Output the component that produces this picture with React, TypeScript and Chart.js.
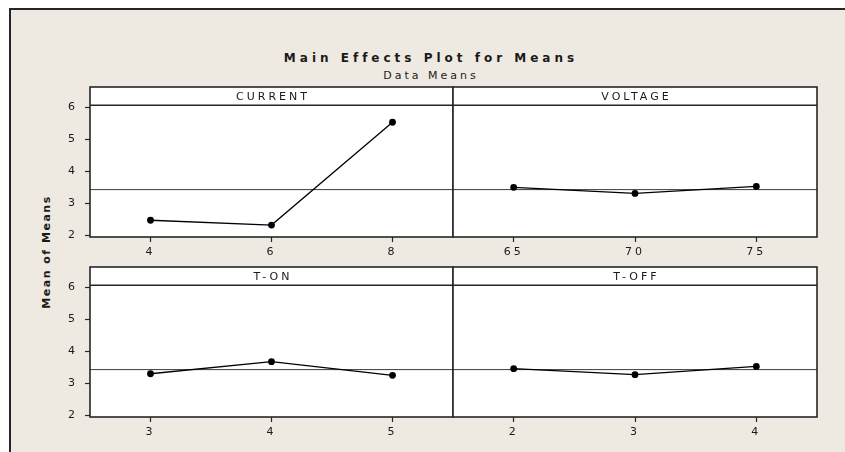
import React, { useEffect, useRef } from 'react';
import { Chart, registerables } from 'chart.js';

Chart.register(...registerables);

// ---- data ----
const CURRENT_LEVELS = ['4', '6', '8'];
const CURRENT_MEANS = [2.47, 2.32, 5.54];
const VOLTAGE_LEVELS = ['65', '70', '75'];
const VOLTAGE_MEANS = [3.5, 3.31, 3.53];
const TON_LEVELS = ['3', '4', '5'];
const TON_MEANS = [3.3, 3.68, 3.25];
const TOFF_LEVELS = ['2', '3', '4'];
const TOFF_MEANS = [3.46, 3.27, 3.53];
const GRAND_MEAN = 3.43;
const Y_TICKS = [2, 3, 4, 5, 6];
const Y_MIN = 1.945;
const Y_MAX = 6.645;

const FONT = '"DejaVu Sans", Verdana, sans-serif';
const INK = '#1a1a1a';
const FRAME = '#262626';

type Box = { left: number; top: number; width: number; height: number };
type Area = { l: number; t: number; r: number; b: number };

function Panel(props: {
  name: string;
  levels: string[];
  means: number[];
  area: Area;
  box: Box;
  showY: boolean;
}) {
  const { name, levels, means, area, box, showY } = props;
  const ref = useRef<HTMLCanvasElement | null>(null);

  useEffect(() => {
    const canvas = ref.current!;
    const padTop = area.t - box.top;
    const padRight = box.left + box.width - area.r;
    const padLeft = showY ? 0 : area.l - box.left;
    const yWidth = area.l - box.left;
    const xHeight = box.top + box.height - area.b;
    const STRIP = 18.3;

    const panelPlugin = {
      id: 'panel',
      beforeDraw(chart: any) {
        const { ctx, chartArea: a } = chart;
        (ctx as any).letterSpacing = '3px';
        ctx.save();
        ctx.fillStyle = '#ffffff';
        ctx.fillRect(a.left, a.top, a.right - a.left, a.bottom - a.top);
        ctx.restore();
      },
      afterDraw(chart: any) {
        const { ctx, chartArea: a } = chart;
        ctx.save();
        ctx.fillStyle = '#ffffff';
        ctx.fillRect(a.left, a.top, a.right - a.left, STRIP);
        ctx.strokeStyle = FRAME;
        ctx.lineWidth = 1.6;
        ctx.beginPath();
        ctx.moveTo(a.left, a.top + STRIP);
        ctx.lineTo(a.right, a.top + STRIP);
        ctx.stroke();
        ctx.strokeRect(a.left, a.top, a.right - a.left, a.bottom - a.top);
        (ctx as any).letterSpacing = '3px';
        ctx.fillStyle = INK;
        ctx.font = `11px ${FONT}`;
        ctx.textAlign = 'center';
        ctx.textBaseline = 'middle';
        ctx.fillText(name, (a.left + a.right) / 2 + 1.5, a.top + STRIP / 2 + 0.5);
        ctx.restore();
      },
    };

    const chart = new Chart(canvas, {
      type: 'line',
      data: {
        datasets: [
          {
            data: levels.map((_, i) => ({ x: i, y: means[i] })),
            borderColor: '#000',
            borderWidth: 1.3,
            pointRadius: 3.4,
            pointBackgroundColor: '#000',
            pointBorderWidth: 0,
          },
          {
            data: [
              { x: -0.5, y: GRAND_MEAN },
              { x: 2.5, y: GRAND_MEAN },
            ],
            borderColor: '#3c3c3c',
            borderWidth: 1,
            pointRadius: 0,
          },
        ],
      },
      options: {
        responsive: false,
        maintainAspectRatio: false,
        animation: false,
        devicePixelRatio: 1,
        layout: { padding: { top: padTop, right: padRight, left: padLeft, bottom: 0 } },
        plugins: { legend: { display: false }, tooltip: { enabled: false }, title: { display: false } },
        scales: {
          x: {
            type: 'linear',
            min: -0.5,
            max: 2.5,
            afterBuildTicks: (s: any) => {
              s.ticks = levels.map((_, i) => ({ value: i }));
            },
            afterFit: (s: any) => {
              s.height = xHeight;
            },
            grid: { drawOnChartArea: false, drawTicks: true, tickLength: 5, tickColor: FRAME, tickWidth: 1.2 },
            border: { display: false },
            ticks: {
              callback: (v: any) => levels[Math.round(Number(v))] ?? '',
              color: INK,
              font: { family: FONT, size: 11 },
              padding: 4,
              maxRotation: 0,
              autoSkip: false,
            },
          },
          y: {
            type: 'linear',
            display: showY,
            min: Y_MIN,
            max: Y_MAX,
            afterBuildTicks: (s: any) => {
              s.ticks = Y_TICKS.map((v) => ({ value: v }));
            },
            afterFit: (s: any) => {
              s.width = showY ? yWidth : 0;
            },
            grid: { drawOnChartArea: false, drawTicks: true, tickLength: 5, tickColor: FRAME, tickWidth: 1.2 },
            border: { display: false },
            ticks: {
              color: INK,
              font: { family: FONT, size: 11 },
              padding: 7,
              autoSkip: false,
            },
          },
        },
      },
      plugins: [panelPlugin],
    } as any);
    return () => chart.destroy();
  }, []);

  return (
    <canvas
      ref={ref}
      width={box.width}
      height={box.height}
      style={{ position: 'absolute', left: box.left, top: box.top, width: box.width, height: box.height }}
    />
  );
}

export default function App() {
  const TOP: [number, number] = [87, 237];
  const BOT: [number, number] = [267, 417];
  const LEFT: [number, number] = [90, 453];
  const RIGHT: [number, number] = [453, 817];

  const leftBox = (row: [number, number]): Box => ({ left: 20, top: row[0] - 22, width: 445, height: row[1] - row[0] + 22 + 35 });
  const rightBox = (row: [number, number]): Box => ({ left: 441, top: row[0] - 22, width: 390, height: row[1] - row[0] + 22 + 35 });

  return (
    <div style={{ position: 'fixed', left: 0, top: 0, width: 845, height: 452, background: '#ffffff', overflow: 'hidden' }}>
      <div
        style={{
          position: 'absolute',
          left: 9,
          top: 8,
          right: 0,
          bottom: 0,
          background: '#EEEAE1',
          borderLeft: `2px solid ${FRAME}`,
          borderTop: `2px solid ${FRAME}`,
        }}
      />
      <div
        style={{
          position: 'absolute',
          left: 231,
          width: 400,
          top: 50,
          height: 16,
          lineHeight: '16px',
          textAlign: 'center',
          fontFamily: FONT,
          fontWeight: 'bold',
          fontSize: 12,
          letterSpacing: '4px',
          color: INK,
          whiteSpace: 'nowrap',
        }}
      >
        Main Effects Plot for Means
      </div>
      <div
        style={{
          position: 'absolute',
          left: 231,
          width: 400,
          top: 69,
          height: 14,
          lineHeight: '14px',
          textAlign: 'center',
          fontFamily: FONT,
          fontSize: 11,
          letterSpacing: '3px',
          color: INK,
          whiteSpace: 'nowrap',
        }}
      >
        Data Means
      </div>
      <div
        style={{
          position: 'absolute',
          left: 47,
          top: 252,
          transform: 'translate(-50%, -50%) rotate(-90deg)',
          fontFamily: FONT,
          fontWeight: 'bold',
          fontSize: 11,
          letterSpacing: '1.5px',
          color: INK,
          whiteSpace: 'nowrap',
          lineHeight: '14px',
        }}
      >
        Mean of Means
      </div>
      <Panel name="CURRENT" levels={CURRENT_LEVELS} means={CURRENT_MEANS} showY={true}
        area={{ l: LEFT[0], r: LEFT[1], t: TOP[0], b: TOP[1] }} box={leftBox(TOP)} />
      <Panel name="VOLTAGE" levels={VOLTAGE_LEVELS} means={VOLTAGE_MEANS} showY={false}
        area={{ l: RIGHT[0], r: RIGHT[1], t: TOP[0], b: TOP[1] }} box={rightBox(TOP)} />
      <Panel name="T-ON" levels={TON_LEVELS} means={TON_MEANS} showY={true}
        area={{ l: LEFT[0], r: LEFT[1], t: BOT[0], b: BOT[1] }} box={leftBox(BOT)} />
      <Panel name="T-OFF" levels={TOFF_LEVELS} means={TOFF_MEANS} showY={false}
        area={{ l: RIGHT[0], r: RIGHT[1], t: BOT[0], b: BOT[1] }} box={rightBox(BOT)} />
    </div>
  );
}
